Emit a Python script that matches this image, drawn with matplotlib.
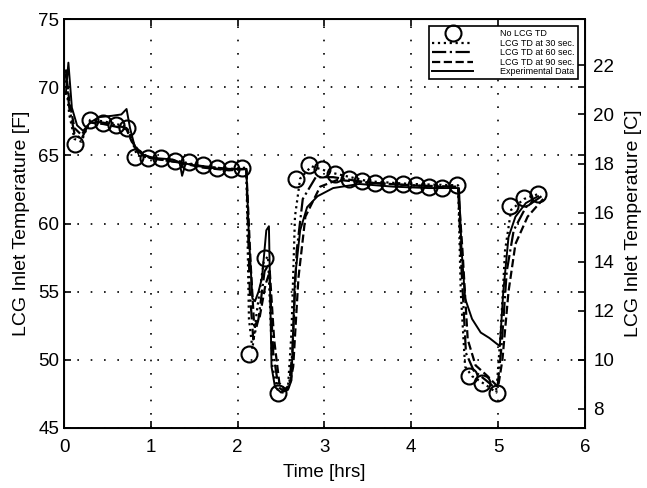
import matplotlib
matplotlib.use("Agg")
import matplotlib.pyplot as plt

plt.rcParams['font.family'] = ['Liberation Sans', 'DejaVu Sans']

# No LCG TD (circle markers)
t_none = [0.13, 0.30, 0.45, 0.60, 0.72, 0.82, 0.97, 1.12, 1.28, 1.44, 1.60, 1.76, 1.92, 2.05,
          2.13, 2.32, 2.47, 2.67, 2.82, 2.97, 3.12, 3.28, 3.43, 3.58, 3.74, 3.90, 4.05, 4.20,
          4.35, 4.53, 4.66, 4.82, 4.99, 5.14, 5.30, 5.46]
f_none = [65.8, 67.6, 67.4, 67.2, 67.0, 64.9, 64.8, 64.8, 64.6, 64.5, 64.3, 64.1, 64.0, 64.1,
          50.4, 57.5, 47.6, 63.3, 64.3, 64.0, 63.6, 63.3, 63.1, 63.0, 62.9, 62.9, 62.8, 62.7,
          62.6, 62.8, 48.8, 48.3, 47.6, 61.3, 61.9, 62.2]

# LCG TD at 30 sec. (dotted)
t_30 = [0.02, 0.06, 0.12, 0.20, 0.30, 0.45, 0.60, 0.72, 0.76, 0.84, 1.00, 1.30, 1.60, 1.90,
        2.10, 2.13, 2.17, 2.22, 2.30, 2.35, 2.40, 2.46, 2.52, 2.58, 2.62, 2.66, 2.72, 2.85,
        3.10, 3.50, 4.00, 4.54, 4.57, 4.62, 4.70, 4.85, 4.98, 5.03, 5.08, 5.15, 5.30, 5.48]
f_30 = [70.5, 68.0, 66.2, 66.0, 67.6, 67.5, 67.3, 67.1, 66.5, 65.0, 64.8, 64.6, 64.2, 64.0,
        64.1, 53.0, 50.8, 53.5, 57.2, 57.6, 49.5, 47.8, 47.6, 48.0, 52.0, 60.5, 63.3, 64.2,
        63.7, 63.1, 62.9, 62.8, 55.0, 49.5, 48.8, 48.2, 47.6, 52.0, 58.0, 61.0, 61.8, 62.2]

# LCG TD at 60 sec. (dash-dot)
t_60 = [0.02, 0.06, 0.12, 0.20, 0.30, 0.45, 0.60, 0.72, 0.77, 0.86, 1.00, 1.30, 1.60, 1.90,
        2.10, 2.14, 2.18, 2.24, 2.31, 2.36, 2.41, 2.47, 2.53, 2.59, 2.63, 2.68, 2.75, 2.90,
        3.10, 3.50, 4.00, 4.54, 4.58, 4.63, 4.72, 4.86, 4.99, 5.04, 5.10, 5.18, 5.32, 5.50]
f_60 = [71.0, 68.5, 66.6, 66.2, 67.5, 67.4, 67.2, 67.0, 66.3, 65.1, 64.8, 64.5, 64.2, 64.0,
        64.0, 55.0, 51.5, 53.0, 56.5, 57.0, 50.5, 48.0, 47.7, 48.0, 50.5, 58.0, 61.8, 63.4,
        63.4, 63.0, 62.8, 62.7, 56.5, 50.5, 49.2, 48.5, 47.8, 51.0, 56.5, 59.5, 61.2, 62.0]

# LCG TD at 90 sec. (dashed)
t_90 = [0.02, 0.06, 0.12, 0.20, 0.30, 0.45, 0.60, 0.72, 0.78, 0.88, 1.00, 1.30, 1.60, 1.90,
        2.10, 2.15, 2.19, 2.25, 2.32, 2.37, 2.42, 2.48, 2.54, 2.60, 2.64, 2.70, 2.78, 2.95,
        3.15, 3.50, 4.00, 4.54, 4.59, 4.65, 4.74, 4.88, 5.00, 5.05, 5.12, 5.20, 5.34, 5.52]
f_90 = [71.3, 69.0, 67.0, 66.5, 67.4, 67.3, 67.1, 66.9, 66.0, 65.2, 64.8, 64.5, 64.1, 63.9,
        64.0, 57.0, 52.5, 53.0, 55.5, 56.5, 51.5, 48.3, 47.8, 48.2, 49.5, 56.0, 60.5, 62.7,
        63.2, 63.0, 62.8, 62.6, 58.0, 51.5, 49.6, 48.8, 48.0, 50.0, 55.0, 58.5, 60.5, 61.8]

# Experimental data (solid)
t_exp = [0.02, 0.05, 0.09, 0.15, 0.22, 0.30, 0.40, 0.55, 0.66, 0.72, 0.76, 0.82, 0.92, 1.05,
         1.25, 1.33, 1.36, 1.40, 1.55, 1.80, 2.05, 2.10, 2.13, 2.17, 2.20, 2.24, 2.28, 2.33,
         2.36, 2.39, 2.43, 2.50, 2.58, 2.62, 2.66, 2.72, 2.80, 2.92, 3.10, 3.40, 3.80, 4.20,
         4.55, 4.58, 4.62, 4.70, 4.80, 4.90, 4.98, 5.02, 5.06, 5.12, 5.20, 5.32, 5.46]
f_exp = [69.5, 71.8, 68.5, 67.2, 66.8, 67.4, 67.8, 67.9, 68.0, 68.4, 67.0, 65.5, 65.0, 64.8,
         64.7, 64.5, 63.5, 64.4, 64.2, 64.0, 64.0, 64.0, 59.0, 54.5, 54.3, 55.0, 56.0, 59.5,
         59.8, 49.5, 48.0, 47.6, 47.8, 48.5, 56.0, 59.5, 61.2, 62.0, 62.6, 62.9, 62.7, 62.6,
         62.6, 58.0, 54.5, 53.0, 52.0, 51.6, 51.2, 51.0, 55.0, 59.0, 60.5, 61.5, 62.0]

fig = plt.figure(figsize=(6.47, 4.88), dpi=100)
ax = fig.add_axes([0.099, 0.123, 0.805, 0.838])

ax.plot(t_none, f_none, 'o', color='black', markerfacecolor='none', markersize=11.5,
        markeredgewidth=1.5, label='No LCG TD')
ax.plot(t_30, f_30, ':', color='black', linewidth=1.6, label='LCG TD at 30 sec.')
ax.plot(t_60, f_60, '-.', color='black', linewidth=1.6, label='LCG TD at 60 sec.')
ax.plot(t_90, f_90, '--', color='black', linewidth=1.6, label='LCG TD at 90 sec.')
ax.plot(t_exp, f_exp, '-', color='black', linewidth=1.4, label='Experimental Data')

ax.set_xlim(0, 6)
ax.set_ylim(45, 75)
ax.set_xticks(range(0, 7))
ax.set_yticks(range(45, 80, 5))
ax.grid(True, color='black', linestyle=(0, (1, 7)), linewidth=1.2)
for s in ax.spines.values():
    s.set_linewidth(1.4)
ax.set_xlabel('Time [hrs]', fontsize=13.5, labelpad=6)
ax.set_ylabel('LCG Inlet Temperature [F]', fontsize=14, labelpad=6)

# Celsius scale on the right
ax2 = ax.twinx()
ax2.set_ylim((45 - 32) * 5 / 9, (75 - 32) * 5 / 9)
ax2.set_yticks(range(8, 24, 2))
ax2.tick_params(direction='in', labelsize=13.5, length=5, width=1.2, pad=6)
ax2.set_ylabel('LCG Inlet Temperature [C]', fontsize=14, labelpad=8)

# boxed axes: Fahrenheit ticks mirrored on the right spine too
ax.tick_params(direction='in', top=True, right=True, labelright=False,
               labelsize=13.5, length=5, width=1.2)
ax.tick_params(axis='x', pad=8)

leg = ax.legend(loc='upper right', fontsize=6.5, frameon=True, fancybox=False,
                edgecolor='black', framealpha=1, handlelength=4.5, handletextpad=3.0,
                borderpad=0.35, borderaxespad=0.8, labelspacing=0.05)
leg.get_frame().set_linewidth(1.2)

fig.savefig('out.png', dpi=100)
